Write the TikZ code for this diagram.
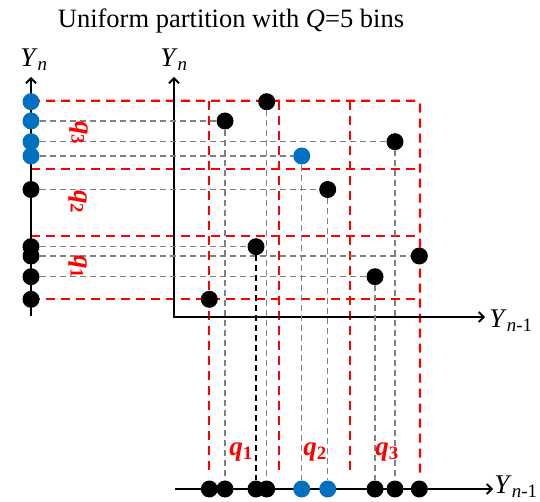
\documentclass[tikz,border=0pt]{standalone}
\usepackage{fontspec}
\setmainfont{Liberation Serif}
\usetikzlibrary{arrows.meta}
\definecolor{ptblue}{RGB}{0,112,192}
\tikzset{
  reddash/.style={red, line width=2.2pt, dash pattern=on 9pt off 6pt},
  graydash/.style={gray, line width=1.1pt, dash pattern=on 6pt off 4pt},
  blackdash/.style={black, line width=1.1pt, dash pattern=on 6pt off 4pt},
  axisline/.style={line width=1.8pt},
  dot/.style={circle, fill=black, inner sep=0pt, minimum size=17pt},
  bluedot/.style={dot, fill=ptblue},
  binlabel/.style={text=red, font=\fontsize{27}{27}\selectfont\bfseries\itshape},
  axislabel/.style={font=\fontsize{27}{27}\selectfont}
}
\newcommand{\Yn}{\textit{Y}\textsubscript{\textit{n}}}
\newcommand{\Ynm}{\textit{Y}\textsubscript{\textit{n}-1}}
\newcommand{\qbin}[1]{\textit{q}\textsubscript{\upshape #1}}
\begin{document}
\begin{tikzpicture}[x=1pt, y=-1pt, >={Straight Barb[length=5pt,width=10pt]}]
    \useasboundingbox (0,0) rectangle (540,502);
    % 1. Title
    \node[font=\fontsize{26.5}{30}\selectfont] (title) at (231,21) {Uniform partition with \textit{Q}=5 bins};

    % 2. Red bin grid
    \draw[reddash, rounded corners=4pt] (31,100.7) -- (420,100.7) -- (420,475);
    \foreach \y in {169,235.7,299.3} \draw[reddash] (31,\y) -- (420,\y);
    \foreach \x in {209.3,279.3,350} \draw[reddash] (\x,100.7) -- (\x,475);

    % 3. Axes
    \coordinate (O) at (174,317);
    \draw[axisline, <->] (174,77) -- (O) -- (485,317);
    \draw[axisline, ->] (31,316) -- (31,77);
    \draw[axisline, ->] (175,489) -- (493,489);

    % 4. Data points: scatter (p), left axis (l), bottom axis (b)
    \foreach \n/\x/\y/\sp/\sl/\sb in {1/209.3/299.3/dot/dot/dot,
        2/225/121/dot/bluedot/dot, 3/266.7/101.7/dot/bluedot/dot,
        4/256/246.7/dot/dot/dot, 5/301.7/156/bluedot/bluedot/bluedot,
        6/327.7/189.5/dot/dot/bluedot, 7/375/276.7/dot/dot/dot,
        8/395/141.7/dot/bluedot/dot, 9/419.3/256/dot/dot/dot} {
        \node[\sp] (p\n) at (\x,\y) {};
        \node[\sl] (l\n) at (31,\y) {};
        \node[\sb] (b\n) at (\x,489) {};
    }

    % 5. Projections onto the axes
    \foreach \n in {2,4,5,6,7,8,9} \draw[graydash] (l\n) -- (p\n);
    \foreach \n in {2,3,5,6,7,8} \draw[graydash] (p\n) -- (b\n);
    \draw[blackdash] (p4) -- (b4);

    % 6. Labels
    \node[axislabel] (yl) at (34,60) {\Yn};
    \node[axislabel] (ym) at (174,60) {\Yn};
    \node[axislabel] (xm) at (511,321) {\Ynm};
    \node[axislabel] (xb) at (516,487) {\Ynm};
    \node[binlabel, rotate=-90] (ql3) at (79,133) {\qbin{3}};
    \node[binlabel, rotate=-90] (ql2) at (78,202) {\qbin{2}};
    \node[binlabel, rotate=-90] (ql1) at (78,267) {\qbin{1}};
    \node[binlabel] (qb1) at (241,452) {\qbin{1}};
    \node[binlabel] (qb2) at (315,452) {\qbin{2}};
    \node[binlabel] (qb3) at (387,452) {\qbin{3}};
\end{tikzpicture}
\end{document}
